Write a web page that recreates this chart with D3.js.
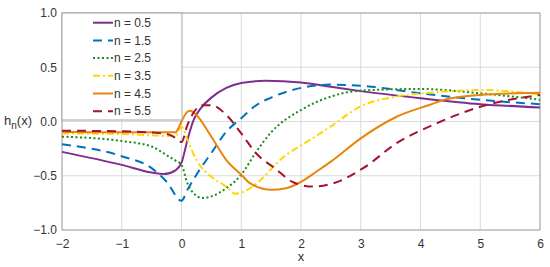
<!DOCTYPE html>
<html>
<head>
<meta charset="utf-8">
<script src="https://cdn.jsdelivr.net/npm/d3@7"></script>
<style>
  body { margin: 0; background: #fff; }
  svg { display: block; font-family: "Liberation Sans", Arial, sans-serif; }
</style>
</head>
<body>
<div id="chart"></div>
<script>
// values
const xs05 = [-2, -1, -0.5, -0.3, -0.1, 0, 0.1, 0.2, 0.3, 0.5, 0.75, 1, 1.4, 2, 2.5, 3, 4, 5, 6];
const ys05 = [-0.28, -0.40, -0.47, -0.485, -0.45, -0.38, -0.17, 0.01, 0.106, 0.22, 0.31, 0.355, 0.375, 0.36, 0.32, 0.28, 0.215, 0.16, 0.13];

const xs15 = [-2, -1, -0.5, -0.25, 0, 0.1, 0.25, 0.5, 0.75, 1, 1.25, 1.5, 2, 2.5, 3, 4, 5, 6];
const ys15 = [-0.21, -0.32, -0.43, -0.555, -0.73, -0.63, -0.49, -0.29, -0.094, 0.03, 0.15, 0.22, 0.31, 0.34, 0.33, 0.26, 0.20, 0.16];

const xs25 = [-2, -1, -0.5, -0.25, -0.1, 0, 0.1, 0.2, 0.35, 0.5, 0.75, 1, 1.25, 1.5, 2, 2.5, 3, 4, 5, 6];
const ys25 = [-0.14, -0.18, -0.23, -0.31, -0.36, -0.40, -0.57, -0.66, -0.705, -0.69, -0.615, -0.49, -0.28, -0.10, 0.106, 0.23, 0.285, 0.30, 0.26, 0.20];

const xs35 = [-2, -1, -0.1, 0, 0.1, 0.25, 0.5, 0.75, 0.9, 1, 1.25, 1.5, 1.65, 2, 2.15, 2.5, 3, 3.6, 4.16, 5, 6];
const ys35 = [-0.11, -0.115, -0.135, -0.05, -0.17, -0.355, -0.51, -0.60, -0.665, -0.655, -0.575, -0.44, -0.355, -0.22, -0.17, -0.045, 0.14, 0.23, 0.265, 0.29, 0.25];

const xs45 = [-2, -1, -0.1, -0.05, 0, 0.1, 0.15, 0.25, 0.5, 0.75, 1, 1.15, 1.5, 1.75, 1.9, 2.05, 2.25, 2.5, 3, 3.6, 4.16, 4.4, 5, 6];
const ys45 = [-0.094, -0.10, -0.10, -0.06, 0.0, 0.09, 0.10, 0.06, -0.14, -0.355, -0.49, -0.57, -0.63, -0.615, -0.585, -0.54, -0.465, -0.37, -0.155, 0.044, 0.155, 0.2, 0.245, 0.265];

const xs55 = [-2, -1, -0.25, -0.05, 0, 0.1, 0.2, 0.35, 0.5, 0.75, 1, 1.26, 1.56, 1.87, 2.2, 2.54, 3.04, 3.6, 4.27, 5, 6];
const ys55 = [-0.085, -0.09, -0.115, -0.17, -0.19, -0.03, 0.08, 0.15, 0.15, 0.06, -0.11, -0.3, -0.43, -0.56, -0.60, -0.57, -0.43, -0.2, -0.017, 0.136, 0.245];

const labels = ["n = 0.5", "n = 1.5", "n = 2.5", "n = 3.5", "n = 4.5", "n = 5.5"];
const xTicks = [-2, -1, 0, 1, 2, 3, 4, 5, 6];
const yTicks = [-1, -0.5, 0, 0.5, 1];

const series = [
  {name: labels[0], xs: xs05, ys: ys05, color: "#7e2f8e", dash: null},
  {name: labels[1], xs: xs15, ys: ys15, color: "#0072bd", dash: "9,6"},
  {name: labels[2], xs: xs25, ys: ys25, color: "#1a8a1a", dash: "2,2.5"},
  {name: labels[3], xs: xs35, ys: ys35, color: "#ffd700", dash: "7,3,2,3"},
  {name: labels[4], xs: xs45, ys: ys45, color: "#e8850c", dash: null},
  {name: labels[5], xs: xs55, ys: ys55, color: "#a2142f", dash: "9,6"}
];

const width = 550, height = 267;
const margin = {top: 13, right: 10, bottom: 37, left: 62};

const svg = d3.select("#chart").append("svg")
    .attr("width", width)
    .attr("height", height);

const x = d3.scaleLinear().domain([-2, 6]).range([margin.left, width - margin.right]);
const y = d3.scaleLinear().domain([-1, 1]).range([height - margin.bottom, margin.top]);

// grid
svg.append("g")
  .selectAll("line")
  .data(xTicks)
  .join("line")
    .attr("x1", d => x(d)).attr("x2", d => x(d))
    .attr("y1", y(-1)).attr("y2", y(1))
    .attr("stroke", "#dadada")
    .attr("stroke-width", 1);

svg.append("g")
  .selectAll("line")
  .data(yTicks)
  .join("line")
    .attr("x1", x(-2)).attr("x2", x(6))
    .attr("y1", d => y(d)).attr("y2", d => y(d))
    .attr("stroke", "#dadada")
    .attr("stroke-width", 1);

// box
svg.append("rect")
    .attr("x", x(-2)).attr("y", y(1))
    .attr("width", x(6) - x(-2)).attr("height", y(-1) - y(1))
    .attr("fill", "none")
    .attr("stroke", "#a6a6a6")
    .attr("stroke-width", 1);

// tick labels
const xAxis = svg.append("g")
    .attr("transform", `translate(0,${y(-1)})`)
    .call(d3.axisBottom(x).tickValues(xTicks).tickSize(0).tickPadding(9).tickFormat(d3.format("d")));
xAxis.select(".domain").remove();
xAxis.selectAll("text").attr("font-size", 12).attr("fill", "#333").attr("font-family", null);

const yAxis = svg.append("g")
    .attr("transform", `translate(${x(-2)},0)`)
    .call(d3.axisLeft(y).tickValues(yTicks).tickSize(0).tickPadding(5).tickFormat(d3.format(".1f")));
yAxis.select(".domain").remove();
yAxis.selectAll("text").attr("font-size", 12).attr("fill", "#333").attr("font-family", null);

// axis labels
svg.append("text")
    .attr("x", x(2)).attr("y", 261)
    .attr("text-anchor", "middle")
    .attr("font-size", 13).attr("fill", "#333")
    .text("x");

const yl = svg.append("text")
    .attr("x", 4).attr("y", 125)
    .attr("font-size", 13).attr("fill", "#333");
yl.append("tspan").text("h");
yl.append("tspan").attr("dy", 4).attr("font-size", 10).text("n");
yl.append("tspan").attr("dy", -4).text("(x)");

// curves
const line = d3.line()
    .x(d => x(d[0]))
    .y(d => y(d[1]))
    .curve(d3.curveMonotoneX);

svg.append("g")
  .selectAll("path")
  .data(series)
  .join("path")
    .attr("d", s => line(s.xs.map((v, i) => [v, s.ys[i]])))
    .attr("fill", "none")
    .attr("stroke", s => s.color)
    .attr("stroke-width", 2)
    .attr("stroke-dasharray", s => s.dash);

// legend
const lg = svg.append("g");
lg.append("rect")
    .attr("x", x(-2)).attr("y", y(1))
    .attr("width", 120).attr("height", 107)
    .attr("fill", "#fff")
    .attr("stroke", "#a6a6a6");

const item = lg.selectAll("g")
  .data(series)
  .join("g")
    .attr("transform", (d, i) => `translate(93,${22.7 + i * 17.7})`);

item.append("line")
    .attr("x1", 0).attr("x2", 20)
    .attr("stroke", d => d.color)
    .attr("stroke-width", 2)
    .attr("stroke-dasharray", d => d.dash);

item.append("text")
    .attr("x", 21).attr("dy", "0.35em")
    .attr("font-size", 12).attr("fill", "#333")
    .text(d => d.name);
</script>
</body>
</html>
